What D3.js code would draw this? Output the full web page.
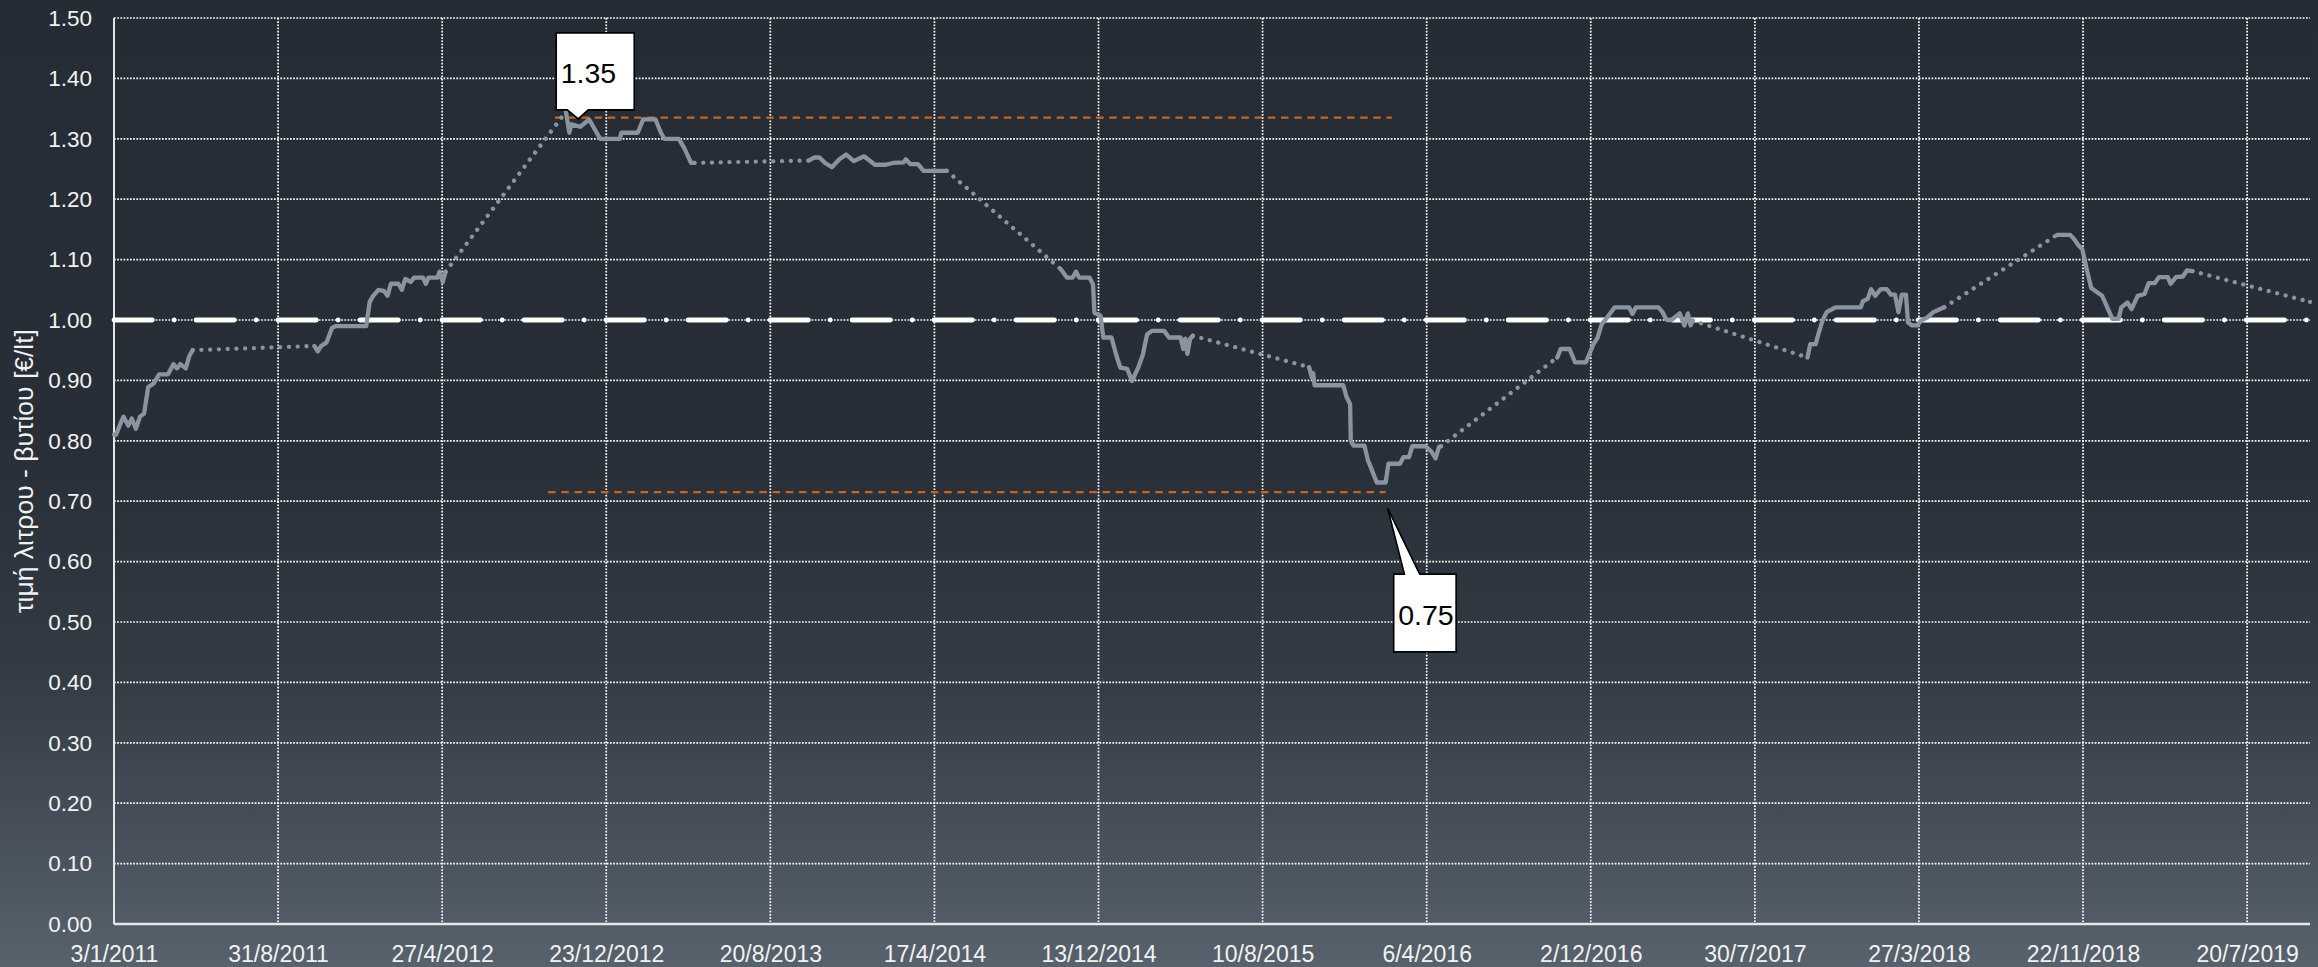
<!DOCTYPE html>
<html><head><meta charset="utf-8">
<script src="https://cdn.jsdelivr.net/npm/d3@7"></script>
<style>html,body{margin:0;padding:0;background:#262d36;overflow:hidden}</style>
</head><body><svg id="chart" width="2318" height="967"></svg>
<script>
// ---------- data ----------
const xDomain = ["2011-01-03", "2019-10-20"];
const yDomain = [0, 1.5];
const yTickValues = [0, 0.1, 0.2, 0.3, 0.4, 0.5, 0.6, 0.7, 0.8, 0.9, 1.0, 1.1, 1.2, 1.3, 1.4, 1.5];
const xTickLabels = ["3/1/2011","31/8/2011","27/4/2012","23/12/2012","20/8/2013","17/4/2014","13/12/2014","10/8/2015","6/4/2016","2/12/2016","30/7/2017","27/3/2018","22/11/2018","20/7/2019"];
const yAxisTitle = "τιμή λιτρου - βυτίου [€/lt]";

// price series; "" / null rows mark a gap in the recorded data
const priceDates = [
 "2011-01-03","2011-01-06","2011-01-13","2011-01-17","2011-01-24","2011-01-29","2011-02-04","2011-02-10","2011-02-16","2011-02-22","2011-03-02","2011-03-10","2011-03-23","2011-03-31","2011-04-05","2011-04-10","2011-04-18","2011-04-23","2011-04-28",
 "",
 "2011-10-23","2011-10-28","2011-11-02","2011-11-10","2011-11-18","2011-11-23","2012-01-07","2012-01-12","2012-01-17","2012-01-25","2012-02-02","2012-02-07","2012-02-12","2012-02-23","2012-02-28","2012-03-04","2012-03-12","2012-03-17","2012-03-30","2012-04-03","2012-04-07","2012-04-20","2012-04-23","2012-04-28","2012-05-02",
 "",
 "2012-10-25","2012-10-30","2012-11-02","2012-11-15","2012-11-28","2012-12-14","2013-01-12","2013-01-14","2013-02-07","2013-02-15","2013-03-05","2013-03-13","2013-03-18","2013-04-08","2013-04-16","2013-04-26","2013-05-01",
 "",
 "2013-10-15","2013-10-23","2013-10-31","2013-11-08","2013-11-18","2013-11-29","2013-12-09","2013-12-20","2014-01-04","2014-01-20","2014-02-05","2014-02-15","2014-03-03","2014-03-06","2014-03-13","2014-03-24","2014-04-01","2014-05-05",
 "",
 "2014-10-19","2014-10-28","2014-11-05","2014-11-10","2014-11-15","2014-11-30","2014-12-05","2014-12-07","2014-12-16","2014-12-20","2015-01-01","2015-01-09","2015-01-14","2015-01-24","2015-01-31","2015-02-09","2015-02-16","2015-02-22","2015-03-01","2015-03-19","2015-03-26","2015-04-12","2015-04-16","2015-04-19","2015-04-22","2015-04-26","2015-04-30",
 "",
 "2015-10-17","2015-10-21","2015-10-23","2015-10-25","2015-12-06","2015-12-11","2015-12-16","2015-12-17","2015-12-21","2016-01-06","2016-01-11","2016-01-16","2016-01-24","2016-02-06","2016-02-10","2016-02-27","2016-03-03","2016-03-11","2016-03-16","2016-04-04","2016-04-13","2016-04-19","2016-04-24","2016-04-27",
 "",
 "2016-10-14","2016-10-19","2016-11-01","2016-11-09","2016-11-25","2016-12-06","2016-12-12","2016-12-18","2016-12-26","2017-01-06","2017-01-27","2017-02-01","2017-02-06","2017-03-11","2017-03-17","2017-03-23","2017-03-30","2017-04-11","2017-04-18","2017-04-23","2017-04-27","2017-04-30",
 "",
 "2017-10-15","2017-10-19","2017-10-27","2017-10-31","2017-11-06","2017-11-12","2017-11-25","2018-01-01","2018-01-04","2018-01-11","2018-01-16","2018-01-22","2018-01-30","2018-02-08","2018-02-14","2018-02-20","2018-02-25","2018-03-02","2018-03-08","2018-03-11","2018-03-17","2018-03-25","2018-03-30","2018-04-08","2018-04-17","2018-05-03",
 "",
 "2018-10-15","2018-11-03","2018-11-09","2018-11-15","2018-11-21","2018-11-28","2018-12-04","2018-12-10","2018-12-20","2019-01-04","2019-01-13","2019-01-17","2019-01-26","2019-02-01","2019-02-10","2019-02-20","2019-02-26","2019-03-07","2019-03-13","2019-03-26","2019-03-30","2019-04-07","2019-04-17","2019-04-23","2019-05-01",
 "",
 "2019-10-20"
];
const priceValues = [
 0.81,0.81,0.83,0.84,0.825,0.837,0.82,0.84,0.845,0.889,0.895,0.91,0.91,0.927,0.92,0.927,0.92,0.94,0.95,
 null,
 0.957,0.948,0.957,0.963,0.987,0.99,0.99,1.03,1.04,1.05,1.048,1.04,1.06,1.06,1.05,1.068,1.063,1.07,1.07,1.06,1.07,1.07,1.08,1.063,1.08,
 null,
 1.345,1.31,1.324,1.32,1.332,1.30,1.30,1.31,1.31,1.332,1.332,1.31,1.30,1.30,1.285,1.26,1.26,
 null,
 1.264,1.269,1.269,1.26,1.253,1.266,1.274,1.263,1.271,1.257,1.257,1.26,1.261,1.266,1.258,1.258,1.247,1.247,
 null,
 1.084,1.07,1.07,1.08,1.07,1.07,1.059,1.012,1.007,0.971,0.971,0.938,0.921,0.919,0.899,0.921,0.943,0.976,0.982,0.982,0.971,0.971,0.952,0.969,0.944,0.969,0.974,
 null,
 0.922,0.905,0.912,0.892,0.892,0.872,0.861,0.80,0.792,0.792,0.768,0.754,0.731,0.731,0.762,0.762,0.773,0.773,0.791,0.791,0.782,0.771,0.79,0.791,
 null,
 0.938,0.952,0.952,0.93,0.93,0.96,0.971,0.993,1.004,1.021,1.021,1.01,1.021,1.021,1.013,1.0,1.0,1.011,0.991,1.011,0.991,0.999,
 null,
 0.938,0.96,0.96,0.977,0.999,1.013,1.021,1.021,1.031,1.035,1.051,1.04,1.051,1.051,1.042,1.042,1.013,1.042,1.042,0.996,0.991,0.991,0.999,1.004,1.013,1.021,
 null,
 1.141,1.141,1.134,1.124,1.117,1.081,1.053,1.048,1.04,1.002,1.002,1.021,1.029,1.018,1.04,1.043,1.061,1.061,1.071,1.071,1.06,1.071,1.072,1.082,1.081,
 null,
 1.03
];

// reference line at 1.00 and the max / min guide lines
const referenceValue = 1.0;
const guideStarts = ["2012-10-09", "2012-09-29"];
const guideEnds   = ["2016-02-15", "2016-02-06"];
const guideValues = [1.335, 0.715];

// call-out labels (max / min)
const calloutTexts  = ["1.35", "0.75"];
const calloutDates  = ["2012-11-12", "2016-02-09"];
const calloutValues = [1.333, 0.688];

// ---------- drawing ----------
const W = 2318, H = 967;
const plot = {left: 114, right: 2310, top: 18, bottom: 924};
const FONT = "'Liberation Sans', Arial, Helvetica, sans-serif";
const parseISO = d3.utcParse("%Y-%m-%d");
const parseDMY = d3.utcParse("%d/%m/%Y");

const x = d3.scaleUtc().domain(xDomain.map(parseISO)).range([plot.left, plot.right]);
const y = d3.scaleLinear().domain(yDomain).range([plot.bottom, plot.top]);

const svg = d3.select("#chart");
const defs = svg.append("defs");
const grad = defs.append("linearGradient").attr("id", "bg").attr("x1", 0).attr("y1", 0).attr("x2", 0).attr("y2", 1);
[[0, "#252c35"], [0.45, "#272e37"], [0.7, "#333b45"], [0.83, "#434c56"], [1, "#58626c"]]
  .forEach(([o, c]) => grad.append("stop").attr("offset", o).attr("stop-color", c));
svg.append("rect").attr("width", W).attr("height", H).attr("fill", "url(#bg)");

// grid
const xTickDates = xTickLabels.map(parseDMY);
const grid = svg.append("g").attr("stroke", "#ffffff").attr("stroke-width", 1.7).attr("stroke-dasharray", "1.7 1.5");
grid.selectAll("line.h").data(yTickValues.filter(v => v > 0)).join("line").attr("class", "h")
  .attr("x1", plot.left).attr("x2", plot.right).attr("y1", d => y(d)).attr("y2", d => y(d));
grid.selectAll("line.v").data(xTickDates.slice(1)).join("line").attr("class", "v")
  .attr("x1", d => x(d)).attr("x2", d => x(d)).attr("y1", plot.top).attr("y2", plot.bottom);

// axes (labels)
const yAxis = d3.axisLeft(y).tickValues(yTickValues).tickFormat(d3.format(".2f")).tickSize(0).tickPadding(22);
const gy = svg.append("g").attr("transform", `translate(${plot.left},0)`).call(yAxis);
gy.select(".domain").remove();
gy.selectAll("text").attr("fill", "#f2f2f2").style("font-family", FONT).style("font-size", "22.5px");

const xAxis = d3.axisBottom(x).tickValues(xTickDates).tickFormat((d, i) => xTickLabels[i]).tickSize(0).tickPadding(22);
const gx = svg.append("g").attr("transform", `translate(0,${plot.bottom})`).call(xAxis);
gx.select(".domain").remove();
gx.selectAll("text").attr("fill", "#f2f2f2").style("font-family", FONT).style("font-size", "23px");

// axis lines
svg.append("line").attr("x1", plot.left).attr("x2", plot.left).attr("y1", y(yDomain[1])).attr("y2", plot.bottom)
  .attr("stroke", "#e6e6e6").attr("stroke-width", 2);
svg.append("line").attr("x1", plot.left).attr("x2", plot.right).attr("y1", y(0)).attr("y2", y(0))
  .attr("stroke", "#e6e6e6").attr("stroke-width", 2.4);

// y title (sized so that it spans about 284 px, as in the original)
const title = svg.append("text").attr("transform", `translate(33,471) rotate(-90)`)
  .attr("text-anchor", "middle").attr("fill", "#f2f2f2").style("font-family", FONT).style("font-size", "22px")
  .text(yAxisTitle);
const tLen = title.node().getComputedTextLength();
if (tLen > 0) title.style("font-size", Math.max(20, Math.min(28, 22 * 284 / tLen)) + "px");

// reference line at 1.00 (long dash - dot)
svg.append("line").attr("x1", plot.left).attr("x2", plot.right).attr("y1", y(referenceValue)).attr("y2", y(referenceValue))
  .attr("stroke", "#ffffff").attr("stroke-width", 4.8).attr("stroke-linecap", "round")
  .attr("stroke-dasharray", "38.3 21.85 0.01 21.85");

// orange guide lines
svg.selectAll("line.guide").data(guideValues).join("line").attr("class", "guide")
  .attr("x1", (d, i) => x(parseISO(guideStarts[i]))).attr("x2", (d, i) => x(parseISO(guideEnds[i])))
  .attr("y1", d => y(d)).attr("y2", d => y(d))
  .attr("stroke", "#c8641e").attr("stroke-width", 2.3).attr("stroke-dasharray", "7.5 5.7");

// series
const pts = priceDates.map((d, i) => ({date: d ? parseISO(d) : null, v: priceValues[i]}));
const SERIES = "#8a949f";
const connectors = [];
pts.forEach((p, i) => {
  if (p.v == null) connectors.push([pts[i - 1], pts[i + 1]]);
});
const lineGen = d3.line().x(p => x(p.date)).y(p => y(p.v));
svg.selectAll("path.gap").data(connectors).join("path").attr("class", "gap")
  .attr("d", lineGen).attr("fill", "none").attr("stroke", SERIES).attr("stroke-width", 4.3)
  .attr("stroke-linecap", "round").attr("stroke-dasharray", "0.01 8.75");
svg.append("path").datum(pts).attr("d", lineGen.defined(p => p.v != null))
  .attr("fill", "none").attr("stroke", SERIES).attr("stroke-width", 4.3)
  .attr("stroke-linejoin", "round").attr("stroke-linecap", "round");

// call-outs
const calloutShapes = [
  {l: -22, r: 56, t: -86, b: -9, wedge: "bottom", w1: -11, w2: 10, tx: -17.5, ty: -35.7},
  {l: 6, r: 68.4, t: 65.7, b: 143.4, wedge: "top", w1: 16.7, w2: 32, tx: 10.5, ty: 116.7}
];
calloutTexts.forEach((txt, i) => {
  const ax = x(parseISO(calloutDates[i])), ay = y(calloutValues[i]);
  const s = calloutShapes[i];
  const p = d3.path();
  if (s.wedge === "bottom") {
    p.moveTo(ax + s.l, ay + s.t); p.lineTo(ax + s.r, ay + s.t); p.lineTo(ax + s.r, ay + s.b);
    p.lineTo(ax + s.w2, ay + s.b); p.lineTo(ax, ay); p.lineTo(ax + s.w1, ay + s.b);
    p.lineTo(ax + s.l, ay + s.b); p.closePath();
  } else {
    p.moveTo(ax + s.l, ay + s.t); p.lineTo(ax + s.w1, ay + s.t); p.lineTo(ax, ay); p.lineTo(ax + s.w2, ay + s.t);
    p.lineTo(ax + s.r, ay + s.t); p.lineTo(ax + s.r, ay + s.b); p.lineTo(ax + s.l, ay + s.b); p.closePath();
  }
  svg.append("path").attr("d", p.toString()).attr("fill", "#ffffff").attr("stroke", "#000000")
    .attr("stroke-width", 1.6).attr("stroke-linejoin", "miter");
  svg.append("text").attr("x", ax + s.tx).attr("y", ay + s.ty).attr("fill", "#000000")
    .style("font-family", FONT).style("font-size", "28.5px").text(txt);
});
</script>
</body></html>
